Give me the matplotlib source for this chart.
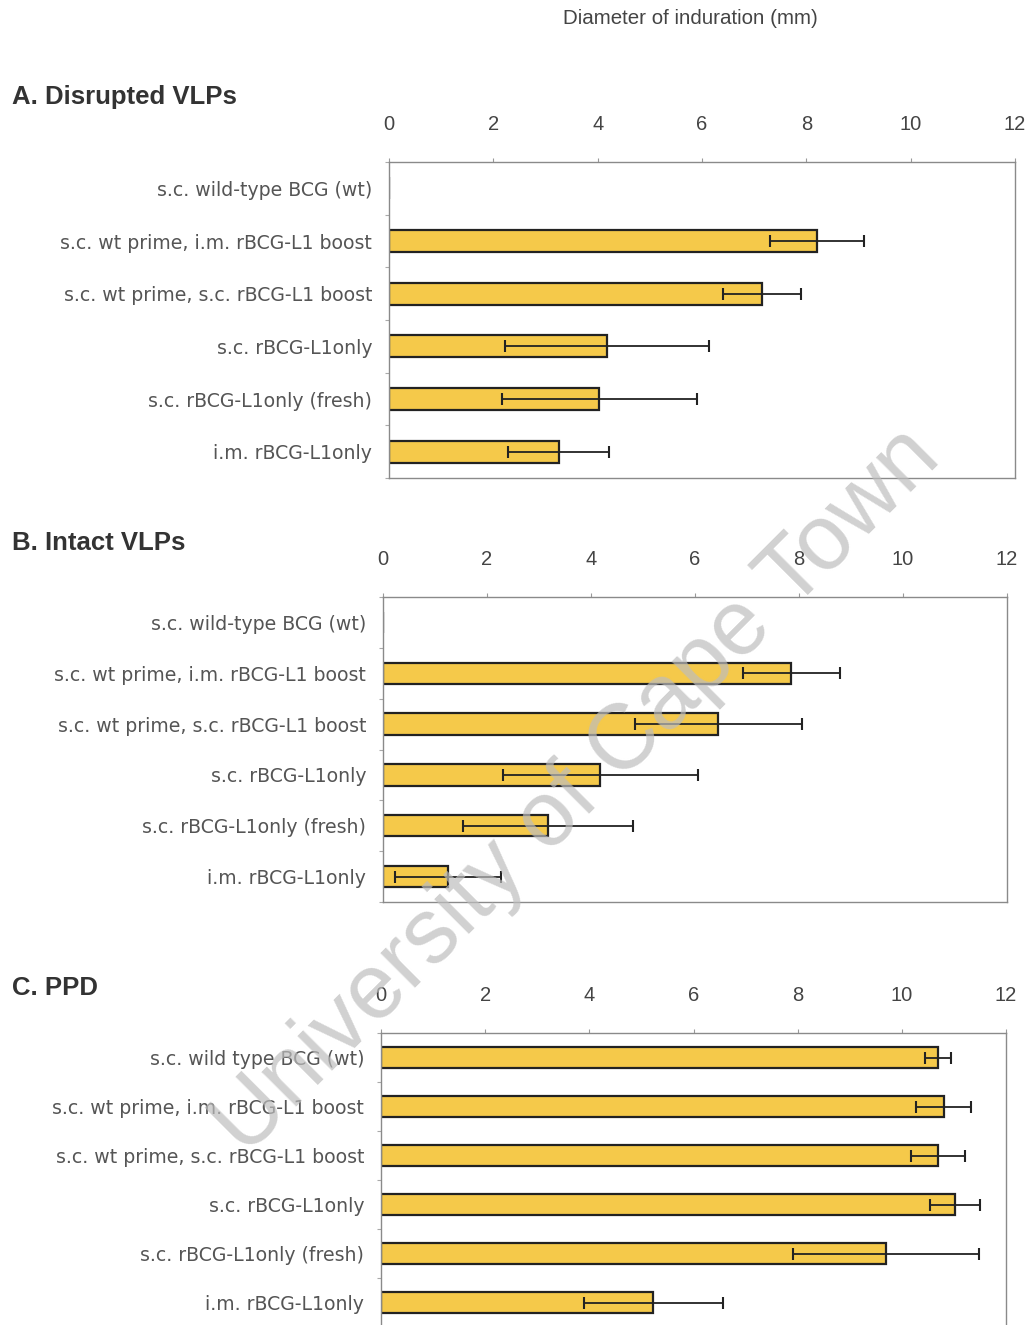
import matplotlib.pyplot as plt
import numpy as np

plt.rcParams['font.family'] = ['Liberation Sans', 'DejaVu Sans']

# treatment groups, top to bottom
groups = ["s.c. wild-type BCG (wt)",
          "s.c. wt prime, i.m. rBCG-L1 boost",
          "s.c. wt prime, s.c. rBCG-L1 boost",
          "s.c. rBCG-L1only",
          "s.c. rBCG-L1only (fresh)",
          "i.m. rBCG-L1only"]
groups_ppd = ["s.c. wild type BCG (wt)"] + groups[1:]

# induration diameters (mm), mean and error
disrupted_mean = [0.0, 8.2, 7.15, 4.18, 4.03, 3.25]
disrupted_err = [0.0, 0.9, 0.74, 1.95, 1.87, 0.96]
intact_mean = [0.0, 7.85, 6.45, 4.18, 3.17, 1.25]
intact_err = [0.0, 0.93, 1.6, 1.87, 1.63, 1.02]
ppd_mean = [10.7, 10.8, 10.69, 11.03, 9.7, 5.23]
ppd_err = [0.25, 0.52, 0.52, 0.48, 1.78, 1.33]

panel_titles = ["A. Disrupted VLPs", "B. Intact VLPs", "C. PPD"]
xticks = [0, 2, 4, 6, 8, 10, 12]

bar_color = '#F5C94A'
W, H = 1028, 1325

fig = plt.figure(figsize=(W / 100, H / 100), dpi=100)

# axes boxes in pixels: left, top, right, bottom
boxes = [(389, 162, 1015, 478),
         (383, 597, 1007, 902),
         (381, 1033, 1006, 1327)]
title_y = [97, 543, 988]
panels = [(groups, disrupted_mean, disrupted_err),
          (groups, intact_mean, intact_err),
          (groups_ppd, ppd_mean, ppd_err)]

for (l, t, r, b), (labels, mean, err), title, ty in zip(boxes, panels, panel_titles, title_y):
    ax = fig.add_axes([l / W, 1 - b / H, (r - l) / W, (b - t) / H])
    y = np.arange(len(labels))
    mean = np.array(mean)
    err = np.array(err)
    ax.barh(y, mean, height=0.42, color=bar_color, edgecolor='#222222', linewidth=1.6)
    show = mean > 0
    ax.errorbar(mean[show], y[show], xerr=err[show], fmt='none', ecolor='#222222',
                elinewidth=1.3, capsize=4.5, capthick=1.5)
    ax.set_xlim(0, 12)
    ax.set_ylim(len(labels) - 0.5, -0.5)
    ax.xaxis.tick_top()
    ax.set_xticks(xticks)
    ax.tick_params(axis='x', length=3, width=0.8, color='#999999', pad=17,
                   labelsize=14.5, labelcolor='#444444')
    ax.set_yticks(y)
    ax.set_yticklabels(labels, family='DejaVu Sans')
    ax.tick_params(axis='y', length=0, pad=12, labelsize=13.6, labelcolor='#555555')
    ax.set_yticks(np.arange(len(labels) + 1) - 0.5, minor=True)
    ax.tick_params(axis='y', which='minor', length=3, width=0.8, color='#aaaaaa')
    for s in ax.spines.values():
        s.set_color('#8a8a8a')
        s.set_linewidth(1.0)
    fig.text(12 / W, 1 - ty / H, title, fontsize=18.5, fontweight='bold',
             color='#333333', ha='left', va='center')

fig.text(690 / W, 1 - 19 / H, "Diameter of induration (mm)", fontsize=14.8,
         color='#444444', ha='center', va='center')

# watermark over everything
fig.text(577 / W, 1 - 792 / H, "University of Cape Town", fontsize=66,
         color='#bdbdbd', alpha=0.7, rotation=45, ha='center', va='center',
         rotation_mode='anchor', zorder=10)

fig.savefig('out.png', dpi=100)
